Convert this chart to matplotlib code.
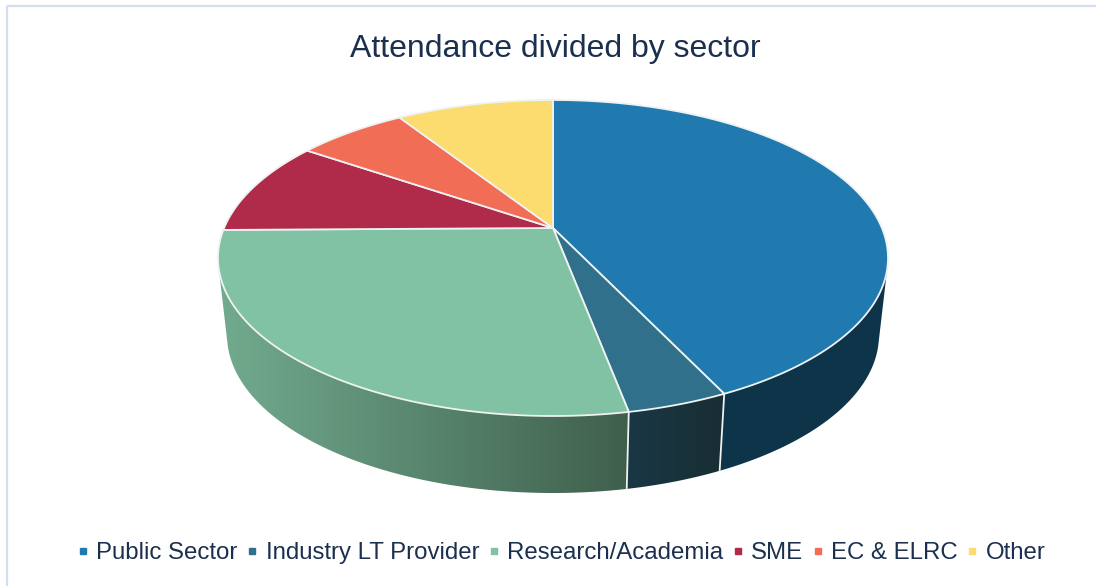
import numpy as np
import matplotlib
matplotlib.use("Agg")
import matplotlib.pyplot as plt
from matplotlib.lines import Line2D
from matplotlib.patches import Polygon, Rectangle

plt.rcParams["font.family"] = ["Liberation Sans", "DejaVu Sans"]

# Attendance share per sector, in percent, clockwise from twelve o'clock
sectors = ["Public Sector", "Industry LT Provider", "Research/Academia", "SME", "EC & ELRC", "Other"]
shares = [42.9, 4.1, 27.8, 9.7, 6.4, 9.1]

top_colors = ["#217AAF", "#31708B", "#80C2A3", "#B02A49", "#F26D55", "#FCDC6E"]
# Side-wall shading of each slice: colour at its left end, colour at its right end
wall_left = ["#0E3449", "#1A3745", "#72AB8F", "#6E1A2E", "#8F4030", "#8F7C3E"]
wall_right = ["#0E3449", "#182E33", "#3F5F4C", "#6E1A2E", "#8F4030", "#8F7C3E"]

TEXT = "#1B2F4E"
FRAME = "#D3DEF1"
EDGE = "#EEF2F2"

# Pie geometry in pixel units of the full-figure axes
CX, CY = 553.0, 258.0
RX, RY = 335.0, 158.0
APEX_SHIFT = 30.0
DEPTH = 77.0
BOTTOM_SCALE = 326.0 / 335.0
FRONT_START, FRONT_END = 105.0, 255.0

K = APEX_SHIFT / RY
A = RX * np.sqrt(1 - K**2)


def project(theta_deg, depth=0.0, scale=1.0):
    """Perspective view of the disc at clockwise angle theta from the top."""
    t = np.radians(theta_deg)
    u, v = np.sin(t), np.cos(t)
    x = CX + scale * A * u / (1 + K * v)
    y = CY + depth - RY * (v + K) / (1 + K * v)
    return x, y


def hex_rgb(c):
    return np.array(matplotlib.colors.to_rgb(c))


fig = plt.figure(figsize=(10.96, 5.86), dpi=100, facecolor="white")
ax = fig.add_axes([0, 0, 1, 1])

# Chart frame, running off the right and bottom of the canvas
ax.add_patch(Rectangle((7, 5.5), 1200, 700, fill=False, edgecolor=FRAME, linewidth=1.6, zorder=1))

edges = np.concatenate([[0.0], np.cumsum(shares)]) / sum(shares) * 360.0

# Side walls: a horizontal colour ramp clipped to each slice's rim outline
for i in range(len(shares)):
    a0 = max(edges[i], FRONT_START)
    a1 = min(edges[i + 1], FRONT_END)
    if a1 <= a0:
        continue
    ts = np.linspace(a0, a1, 200)
    xt, yt = project(ts)
    xb, yb = project(ts, DEPTH, BOTTOM_SCALE)
    outline = np.column_stack([np.r_[xt, xb[::-1]], np.r_[yt, yb[::-1]]])
    lo, hi = outline[:, 0].min(), outline[:, 0].max()
    top, bot = outline[:, 1].min(), outline[:, 1].max()
    f = np.linspace(0, 1, 256)[None, :, None]
    ramp = hex_rgb(wall_left[i])[None, None, :] * (1 - f) + hex_rgb(wall_right[i])[None, None, :] * f
    img = ax.imshow(ramp, extent=(lo, hi, bot, top), aspect="auto",
                    interpolation="bilinear", zorder=2)
    patch = Polygon(outline, closed=True, transform=ax.transData, facecolor="none", edgecolor="none")
    ax.add_patch(patch)
    img.set_clip_path(patch)

# Dividers on the wall where two visible slices meet
for a in edges[1:3]:
    xt, yt = project(a)
    xb, yb = project(a, DEPTH, BOTTOM_SCALE)
    ax.plot([xt, xb], [yt, yb], color=EDGE, linewidth=1.3, solid_capstyle="butt", zorder=3)

# Top faces of the slices
apex_x, apex_y = CX, CY - APEX_SHIFT
for i, col in enumerate(top_colors):
    ts = np.linspace(edges[i], edges[i + 1], 200)
    xs, ys = project(ts)
    pts = np.column_stack([np.r_[apex_x, xs], np.r_[apex_y, ys]])
    ax.add_patch(Polygon(pts, closed=True, facecolor=col, edgecolor=EDGE,
                         linewidth=1.3, joinstyle="round", zorder=4))

ax.set_xlim(0, 1096)
ax.set_ylim(586, 0)
ax.axis("off")

ax.text(555.5, 48.5, "Attendance divided by sector", ha="center", va="center",
        fontsize=23, color=TEXT, zorder=5)

handles = [Line2D([], [], linestyle="none", marker="s", markersize=5, color=c, label=s)
           for c, s in zip(top_colors, sectors)]
ax.legend(handles=handles, loc="center", bbox_to_anchor=(561 / 1096, 1 - 553 / 586),
          ncol=len(sectors), frameon=False, fontsize=17.3, labelcolor=TEXT,
          handlelength=0.55, handletextpad=0.27, columnspacing=0.34,
          borderpad=0, borderaxespad=0)

fig.savefig("out.png", dpi=100, facecolor="white")
